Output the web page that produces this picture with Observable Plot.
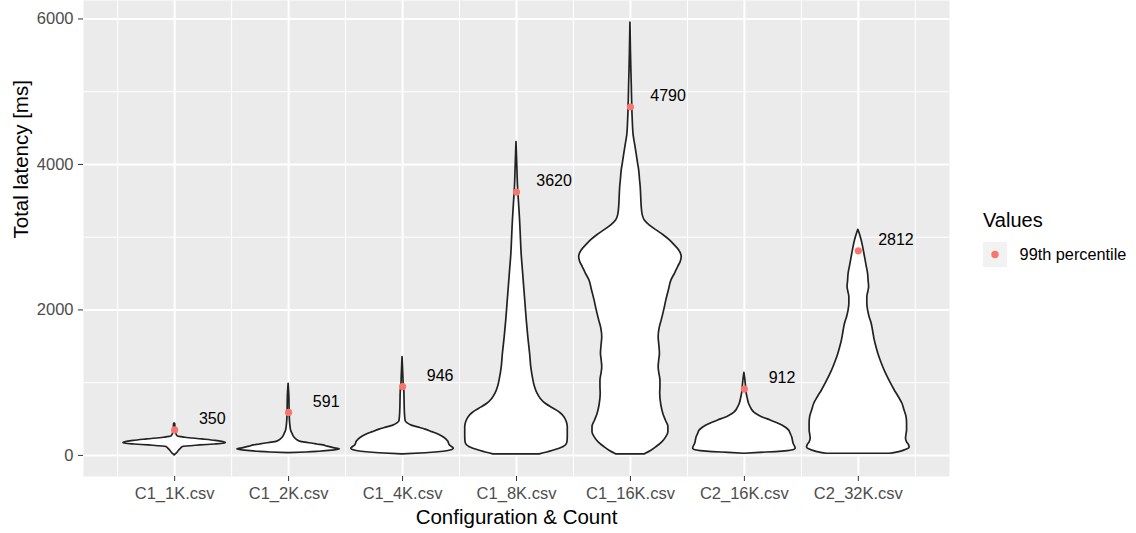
<!DOCTYPE html>
<html><head><meta charset="utf-8">
<script src="https://cdn.jsdelivr.net/npm/d3@7"></script>
<script src="https://cdn.jsdelivr.net/npm/@observablehq/plot@0.6"></script>
<style>
html,body{margin:0;padding:0;background:#fff;}
#wrap{position:relative;width:1136px;height:533px;font-family:"Liberation Sans",Arial,Helvetica,sans-serif;}
#wrap svg.plot{display:block;}
#legend{position:absolute;left:983px;top:208.4px;color:#000;}
#legend .lt{font-size:20px;line-height:24px;white-space:nowrap;}
#legend .row{display:flex;align-items:center;margin-top:9.3px;}
#legend .row span{font-size:16.3px;margin-left:12.6px;white-space:nowrap;}
</style></head>
<body><div id="wrap"></div>
<script>
// ---- data ----
const categories = ["C1_1K.csv","C1_2K.csv","C1_4K.csv","C1_8K.csv","C1_16K.csv","C2_16K.csv","C2_32K.csv"];
const p99 = [350, 591, 946, 3620, 4790, 912, 2812];
const yTicks = [0, 2000, 4000, 6000];
const yMinorTicks = [1000, 3000, 5000];
const legendTitle = "Values";
const legendLabels = ["99th percentile"];

// violin profiles: [latency ms, relative half-width 0..1]
const profile_C1_1K = [[0,0],[14,0.02],[32,0.05],[60,0.08],[90,0.12],[115,0.16],[137,0.5],[150,0.78],[160,0.95],[172,1.0],[185,0.93],[200,0.8],[220,0.54],[243,0.21],[261,0.06],[300,0.03],[380,0.015],[435,0.01],[440,0]];
const profile_C1_2K = [[32,0],[40,0.35],[50,0.6],[65,0.85],[82,1.0],[100,0.88],[120,0.76],[137,0.68],[150,0.56],[160,0.48],[175,0.33],[190,0.22],[220,0.15],[250,0.11],[290,0.08],[340,0.05],[440,0.03],[580,0.02],[800,0.015],[985,0]];
const profile_C1_4K = [[14,0],[30,0.45],[50,0.8],[75,0.97],[90,1.0],[140,0.92],[190,0.89],[240,0.82],[280,0.72],[320,0.58],[355,0.45],[385,0.3],[410,0.18],[440,0.1],[470,0.06],[600,0.045],[880,0.035],[940,0.025],[1100,0.015],[1352,0]];
const profile_C1_8K = [[14,0.45],[60,0.7],[115,0.92],[170,0.99],[250,1.0],[389,1.0],[460,0.98],[527,0.93],[580,0.86],[619,0.78],[660,0.68],[710,0.57],[780,0.47],[848,0.41],[940,0.36],[1031,0.33],[1200,0.29],[1397,0.265],[1627,0.23],[1856,0.2],[2085,0.175],[2314,0.15],[2543,0.125],[2772,0.1],[3000,0.085],[3230,0.07],[3460,0.05],[3689,0.03],[4000,0.015],[4307,0]];
const profile_C1_16K = [[14,0.28],[60,0.4],[115,0.51],[180,0.62],[252,0.7],[320,0.74],[389,0.74],[480,0.69],[573,0.64],[700,0.6],[848,0.58],[940,0.585],[1031,0.585],[1120,0.565],[1214,0.55],[1300,0.56],[1397,0.575],[1500,0.565],[1627,0.55],[1750,0.57],[1856,0.61],[2000,0.66],[2131,0.7],[2270,0.75],[2406,0.8],[2500,0.87],[2589,0.93],[2660,0.98],[2726,1.0],[2780,0.98],[2818,0.95],[2890,0.86],[2955,0.77],[3030,0.64],[3093,0.51],[3160,0.38],[3230,0.28],[3300,0.24],[3414,0.22],[3550,0.21],[3689,0.2],[3800,0.185],[3918,0.17],[4030,0.145],[4147,0.12],[4280,0.09],[4385,0.065],[4605,0.045],[4800,0.035],[5086,0.026],[5300,0.018],[5553,0.01],[5950,0]];
const profile_C2_16K = [[23,0],[35,0.3],[46,0.62],[60,0.85],[75,0.97],[92,1.0],[160,0.96],[252,0.93],[300,0.9],[344,0.87],[380,0.81],[412,0.74],[450,0.62],[481,0.51],[515,0.38],[550,0.28],[585,0.2],[619,0.155],[665,0.12],[710,0.09],[780,0.065],[848,0.045],[920,0.035],[985,0.026],[1060,0.015],[1136,0]];
const profile_C2_32K = [[23,0.61],[46,0.8],[80,0.95],[105,1.0],[137,0.99],[180,0.95],[229,0.93],[290,0.94],[344,0.95],[440,0.95],[527,0.94],[620,0.9],[710,0.86],[800,0.79],[893,0.71],[1010,0.62],[1123,0.54],[1240,0.47],[1352,0.41],[1470,0.36],[1581,0.32],[1700,0.29],[1810,0.26],[1900,0.22],[1993,0.19],[2090,0.175],[2176,0.175],[2250,0.195],[2314,0.21],[2400,0.2],[2497,0.19],[2610,0.16],[2726,0.13],[2840,0.1],[2955,0.065],[3040,0.03],[3102,0]];

const profiles = [profile_C1_1K, profile_C1_2K, profile_C1_4K, profile_C1_8K, profile_C1_16K, profile_C2_16K, profile_C2_32K];

// ---- build tables ----
const HALF = 0.45;
const violinRows = profiles.flatMap((prof, i) => prof.map(([lat, w]) => ({cat: categories[i], pos: i + 1, lat, w})));
const pctRows = p99.map((v, i) => ({cat: categories[i], pos: i + 1, v}));
const catPos = categories.map((_, i) => i + 1);
const minorX = d3.range(categories.length + 1).map(i => i + 0.5);
const FONT = '"Liberation Sans", Arial, Helvetica, sans-serif';

const chart = Plot.plot({
  width: 1136, height: 533,
  marginLeft: 83, marginRight: 187, marginTop: 0, marginBottom: 57,
  style: {fontFamily: FONT, background: "white", overflow: "visible"},
  x: {domain: [0.2, 7.8]},
  y: {domain: [-290, 6254]},
  marks: [
    Plot.frame({fill: "#EBEBEB", stroke: null}),
    Plot.gridY(yMinorTicks, {stroke: "white", strokeOpacity: 1, strokeWidth: 1}),
    Plot.gridX(minorX, {stroke: "white", strokeOpacity: 1, strokeWidth: 1}),
    Plot.gridY(yTicks, {stroke: "white", strokeOpacity: 1, strokeWidth: 2}),
    Plot.gridX(catPos, {stroke: "white", strokeOpacity: 1, strokeWidth: 2}),
    Plot.areaX(violinRows, {
      y: "lat",
      x1: d => d.pos - HALF * d.w,
      x2: d => d.pos + HALF * d.w,
      z: "cat", fill: "white", stroke: "#222222", strokeWidth: 1.7,
      curve: "monotone-y"
    }),
    Plot.dot(pctRows, {x: "pos", y: "v", r: 3.6, fill: "#F8766D", stroke: null}),
    Plot.text(pctRows, {x: d => d.pos + 0.33, y: "v", dy: -11, text: d => String(d.v), fontSize: 16, fill: "black"}),
    Plot.axisX(catPos, {tickFormat: d => categories[d - 1], tickSize: 5, tickPadding: 5.5, fontSize: 16.5, stroke: "#333333", fill: "#4D4D4D", label: null}),
    Plot.axisY(yTicks, {tickFormat: d => String(d), tickSize: 5, tickPadding: 5, fontSize: 16.5, stroke: "#333333", fill: "#4D4D4D", label: null}),
    Plot.text(["Configuration & Count"], {text: d => d, frameAnchor: "bottom", dy: 40.5, lineAnchor: "middle", fontSize: 20.5, fill: "black"}),
    Plot.text(["Total latency [ms]"], {text: d => d, frameAnchor: "left", rotate: -90, dx: -62, lineAnchor: "middle", fontSize: 20.5, fill: "black"})
  ]
});
const wrap = document.getElementById("wrap");
wrap.appendChild(chart);

// legend
const lg = document.createElement("div");
lg.id = "legend";
lg.innerHTML = `<div class="lt">${legendTitle}</div>` + legendLabels.map(l =>
  `<div class="row"><svg width="24" height="25"><rect width="24" height="25" fill="#F2F2F2"/><circle cx="12" cy="12.5" r="3.7" fill="#F8766D"/></svg><span>${l}</span></div>`).join("");
wrap.appendChild(lg);
</script>
</body></html>
